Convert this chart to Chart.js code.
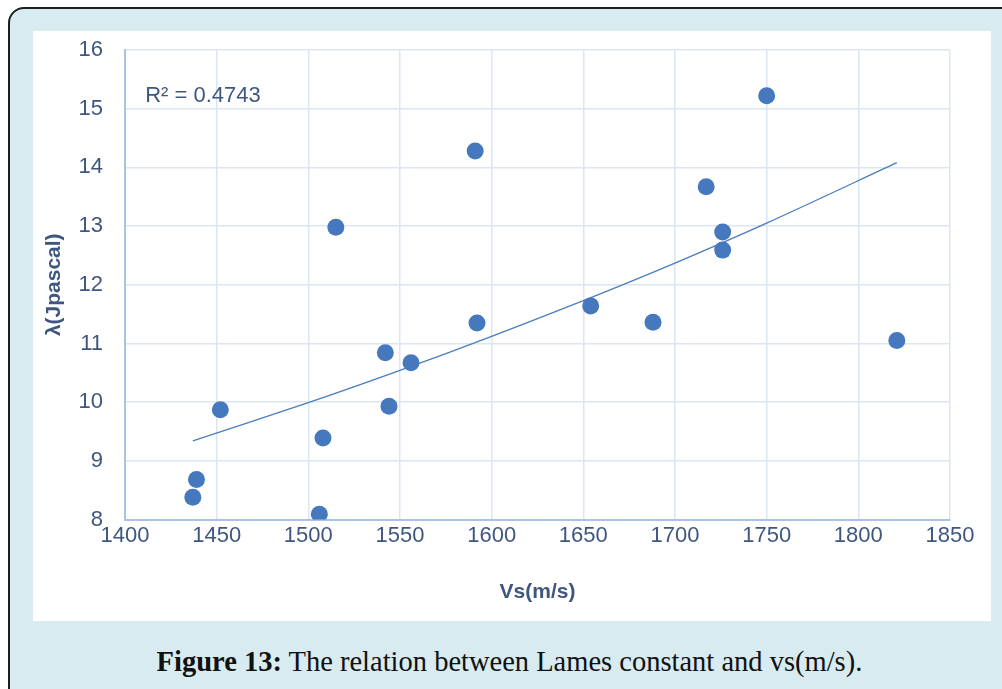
<!DOCTYPE html>
<html>
<head>
<meta charset="utf-8">
<script src="https://cdn.jsdelivr.net/npm/chart.js@4/dist/chart.umd.min.js"></script>
<style>
  html, body { margin: 0; padding: 0; background: #fff; overflow: hidden; }
  #frame {
    position: absolute; left: 8px; top: 7px; width: 1100px; height: 800px;
    background: #d7ebf0; border: 2px solid #1e1e1e; border-radius: 16px;
  }
  #panel {
    position: absolute; left: 33px; top: 31px; width: 958px; height: 590px; background: #fff;
  }
  #caption {
    position: absolute; left: 8px; width: 1002px; top: 644px; text-align: center;
    font-family: "Liberation Serif", serif; font-size: 30px; color: #111;
    transform: scaleX(0.95); transform-origin: 510px 0; white-space: nowrap;
  }
</style>
</head>
<body>
<div id="frame"></div>
<div id="panel"><canvas id="chart" width="958" height="590"></canvas></div>
<div id="caption"><b>Figure 13:</b> The relation between Lames constant and vs(m/s).</div>
<script>
// values
var vsValues = [1437, 1439, 1452, 1506, 1508, 1515, 1542, 1544, 1556, 1591, 1592,
                1654, 1688, 1717, 1726, 1726, 1750, 1821];
var lambdaValues = [8.38, 8.68, 9.87, 8.09, 9.39, 12.98, 10.84, 9.93, 10.67, 14.28, 11.35,
                    11.64, 11.36, 13.67, 12.90, 12.59, 15.22, 11.05];

// exponential trend line as drawn in the figure
var trendVs = [1437, 1500, 1550, 1600, 1650, 1700, 1750, 1821];
var trendLambda = [9.34, 9.99, 10.54, 11.12, 11.73, 12.37, 13.05, 14.08];

var r2Label = 'R\u00b2 = 0.4743';

var textColor = '#3f5780';
var gridColor = '#dbe6f5';
var axisColor = '#a8c3e6';
var markColor = '#4678be';
var tickFont = { family: '"Liberation Sans", sans-serif', size: 22 };

function pairs(xs, ys) {
    return xs.map(function (x, i) { return { x: x, y: ys[i] }; });
}

var r2Plugin = {
    id: 'r2',
    afterDatasetsDraw: function (chart) {
        var ctx = chart.ctx;
        var xs = chart.scales.x, ys = chart.scales.y;
        ctx.save();
        ctx.font = '22px "Liberation Sans", sans-serif';
        ctx.fillStyle = textColor;
        ctx.textAlign = 'left';
        ctx.textBaseline = 'middle';
        ctx.fillText(r2Label, xs.getPixelForValue(1411), ys.getPixelForValue(15.22));
        ctx.restore();
    }
};

new Chart(document.getElementById('chart'), {
    type: 'scatter',
    data: {
        datasets: [
            {
                label: 'points',
                data: pairs(vsValues, lambdaValues),
                backgroundColor: markColor,
                borderWidth: 0,
                pointRadius: 8.5,
                pointHoverRadius: 8.5
            },
            {
                label: 'trend',
                data: pairs(trendVs, trendLambda),
                showLine: true,
                borderColor: '#4a7cc0',
                borderWidth: 1.3,
                pointRadius: 0,
                tension: 0.3,
                fill: false
            }
        ]
    },
    options: {
        responsive: false,
        animation: false,
        layout: { padding: { top: 19, right: 41, left: 0, bottom: 0 } },
        plugins: { legend: { display: false }, tooltip: { enabled: false } },
        scales: {
            x: {
                type: 'linear',
                min: 1400, max: 1850,
                afterFit: function (s) { s.height = 101.5; s.paddingLeft = 0; s.paddingRight = 0; },
                ticks: {
                    stepSize: 50, color: textColor, padding: 3, font: tickFont,
                    callback: function (v) { return String(v); }
                },
                grid: { color: gridColor, lineWidth: 1.5, drawTicks: false },
                border: { display: true, color: axisColor, width: 2 },
                title: {
                    display: true, text: 'Vs(m/s)', color: textColor,
                    font: { family: '"Liberation Sans", sans-serif', size: 21, weight: 'bold' },
                    padding: { top: 0, bottom: 16 }
                }
            },
            y: {
                type: 'linear',
                min: 8, max: 16,
                afterFit: function (s) { s.width = 92; s.paddingTop = 0; s.paddingBottom = 0; },
                ticks: { stepSize: 1, color: textColor, padding: 22, font: tickFont },
                grid: { color: gridColor, lineWidth: 1.5, drawTicks: false },
                border: { display: true, color: axisColor, width: 2 },
                title: {
                    display: true, text: '\u03bb(Jpascal)', color: textColor,
                    font: { family: '"Liberation Sans", sans-serif', size: 21, weight: 'bold' },
                    padding: { top: 9, bottom: 0 }
                }
            }
        }
    },
    plugins: [r2Plugin]
});
</script>
</body>
</html>
